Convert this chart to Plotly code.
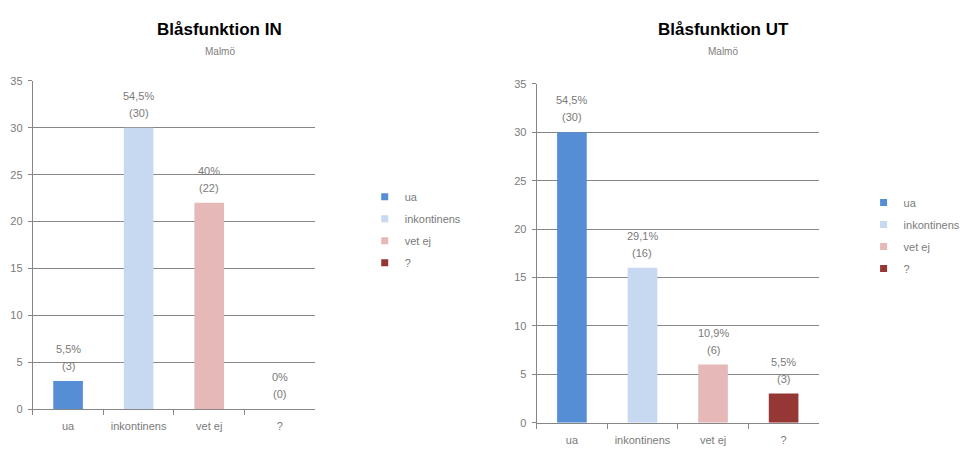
import plotly.graph_objects as go

categories = ["ua", "inkontinens", "vet ej", "?"]
colors = ["#558ED5", "#C6D9F1", "#E6B9B8", "#953735"]

in_counts = [3, 30, 22, 0]
in_pct = ["5,5%", "54,5%", "40%", "0%"]

ut_counts = [30, 16, 6, 3]
ut_pct = ["54,5%", "29,1%", "10,9%", "5,5%"]

y_ticks = [0, 5, 10, 15, 20, 25, 30, 35]

titles = ["Blåsfunktion IN", "Blåsfunktion UT"]
subtitle = "Malmö"

W, H = 966, 453
FONT = "Liberation Sans, Arial, sans-serif"
GRAY = "#868686"
TXT = "#7a7a7a"

def px(x):
    return x / W

def py(y):
    return (H - y) / H

fig = go.Figure()

charts = [
    dict(counts=in_counts, pct=in_pct, xa="x", ya="y", leg="legend"),
    dict(counts=ut_counts, pct=ut_pct, xa="x2", ya="y2", leg="legend2"),
]

annotations = []
for ci, ch in enumerate(charts):
    for i, cat in enumerate(categories):
        fig.add_trace(go.Bar(
            x=[cat], y=[ch["counts"][i]], width=0.42,
            marker=dict(color=colors[i], line=dict(width=0)),
            xaxis=ch["xa"], yaxis=ch["ya"], showlegend=False,
            hoverinfo="skip",
        ))
        fig.add_trace(go.Scatter(
            x=[None], y=[None], mode="markers", name=cat,
            marker=dict(symbol="square", size=7, color=colors[i]),
            xaxis=ch["xa"], yaxis=ch["ya"], legend=ch["leg"],
            legendgroup=f"g{ci}_{i}", showlegend=True,
        ))
        annotations.append(dict(
            x=cat, y=ch["counts"][i], xref=ch["xa"], yref=ch["ya"],
            text=ch["pct"][i], showarrow=False, yanchor="middle", yshift=32,
            font=dict(family=FONT, size=11, color=TXT),
        ))
        annotations.append(dict(
            x=cat, y=ch["counts"][i], xref=ch["xa"], yref=ch["ya"],
            text=f"({ch['counts'][i]})", showarrow=False, yanchor="middle", yshift=15,
            font=dict(family=FONT, size=11, color=TXT),
        ))

# titles
for cx, t in zip([221, 728], titles):
    annotations.append(dict(
        x=px(cx), y=py(24), xref="paper", yref="paper", text=f"<b>{t}</b>",
        showarrow=False, xanchor="center", yanchor="middle",
        font=dict(family=FONT, size=17, color="#000000"),
    ))
    annotations.append(dict(
        x=px(cx), y=py(47), xref="paper", yref="paper", text=subtitle,
        showarrow=False, xanchor="center", yanchor="middle",
        font=dict(family=FONT, size=10, color="#808080"),
    ))

def xaxis(domain):
    return dict(
        domain=domain, type="category", categoryorder="array", categoryarray=categories,
        range=[-0.5, 3.5], showline=True, linecolor=GRAY, linewidth=1,
        ticks="outside", tickson="boundaries", ticklen=5, tickcolor=GRAY,
        showgrid=False, zeroline=False, fixedrange=True,
        tickfont=dict(family=FONT, size=11, color=TXT), ticklabelstandoff=7,
    )

def yaxis(domain, anchor):
    return dict(
        domain=domain, range=[0, 35], tickvals=y_ticks, anchor=anchor,
        showline=True, linecolor=GRAY, linewidth=1,
        ticks="outside", ticklen=4, tickcolor=GRAY,
        showgrid=True, gridcolor=GRAY, gridwidth=1, zeroline=False,
        tickfont=dict(family=FONT, size=11, color=TXT), ticklabelstandoff=3,
    )

legend_common = dict(
    xanchor="left", yanchor="top", orientation="v",
    font=dict(family=FONT, size=11, color=TXT),
    bgcolor="rgba(0,0,0,0)", borderwidth=0,
    traceorder="grouped", tracegroupgap=3, itemwidth=30,
)

fig.update_layout(
    width=W, height=H,
    margin=dict(l=0, r=0, t=0, b=0),
    paper_bgcolor="white", plot_bgcolor="white",
    barmode="overlay",
    showlegend=True,
    xaxis=dict(xaxis([px(33), px(317)]), anchor="y"),
    yaxis=yaxis([py(414), py(77)], "x"),
    xaxis2=dict(xaxis([px(540), px(824)]), anchor="y2"),
    yaxis2=yaxis([py(428), py(80)], "x2"),
    legend=dict(legend_common, x=px(367), y=py(181)),
    legend2=dict(legend_common, x=px(869), y=py(187)),
    annotations=annotations,
    font=dict(family=FONT),
)

fig.write_html(
    "out.html",
    config={"responsive": False, "displayModeBar": False},
)
